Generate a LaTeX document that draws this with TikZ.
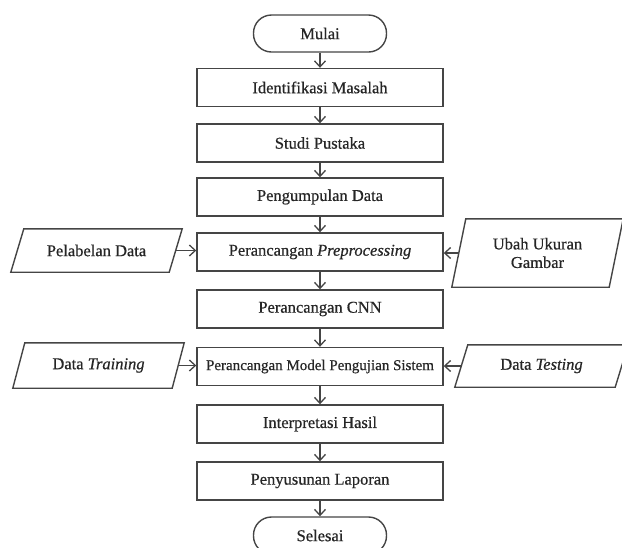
\documentclass[tikz,border=0pt]{standalone}
\usepackage{fontspec}
\setmainfont{Liberation Serif}[FakeBold=0.6, ItalicFeatures={FakeBold=0.6}]
\usetikzlibrary{arrows.meta}
\definecolor{ln}{HTML}{454545}
\begin{document}
\begin{tikzpicture}[x=1pt,y=-1pt,
  every node/.style={font=\fontsize{16.5}{18.5}\selectfont, text=black!85},
  box/.style={draw=ln, line width=1.4pt, minimum width=246pt, minimum height=38pt, inner sep=0pt},
  term/.style={draw=ln, line width=1.4pt, minimum width=133pt, minimum height=37pt, rounded corners=18pt, inner sep=0pt},
  io/.style={minimum height=#1, inner sep=0pt, align=center},
  arr/.style={draw=ln, line width=1.3pt, -{Straight Barb[length=6pt,width=11pt,line width=1.3pt]}},
  para/.style={draw=ln, line width=1.4pt}
]
\useasboundingbox (0,0) rectangle (622,547);
\node[term] (mulai) at (320,33.5) {Mulai};
\node[box] (ident) at (320,87.5) {Identifikasi Masalah};
\node[box] (studi) at (320,143) {Studi Pustaka};
\node[box] (kumpul) at (320,197) {Pengumpulan Data};
\node[box] (prep) at (320,252) {Perancangan \textit{Preprocessing}};
\node[box] (cnn) at (320,309) {Perancangan CNN};
\node[box, font=\fontsize{15}{17}\selectfont] (model) at (320,366.5) {Perancangan Model Pengujian Sistem};
\node[box] (interp) at (320,424) {Interpretasi Hasil};
\node[box] (susun) at (320,481) {Penyusunan Laporan};
\node[term] (selesai) at (320,535.5) {Selesai};

\node[io=43pt, minimum width=158pt] (label) at (96.5,250.5) {Pelabelan Data};
\node[io=68pt, minimum width=157pt] (ubah) at (537.5,253) {Ubah Ukuran\\Gambar};
\node[io=45pt, minimum width=159pt] (train) at (98.5,365.5) {Data \textit{Training}};
\node[io=42pt, minimum width=160pt] (test) at (541.5,366) {Data \textit{Testing}};

\foreach \n/\s in {label/6.5, ubah/7, train/6, test/6.5}{
  \draw[para] ([xshift=\s pt]\n.north west) -- ([xshift=\s pt]\n.north east)
    -- ([xshift=-\s pt]\n.south east) -- ([xshift=-\s pt]\n.south west) -- cycle;
}

\draw[arr] (mulai) -- (ident);
\draw[arr] (ident) -- (studi);
\draw[arr] (studi) -- (kumpul);
\draw[arr] (kumpul) -- (prep);
\draw[arr] (prep) -- (cnn);
\draw[arr] (cnn) -- (model);
\draw[arr] (model) -- (interp);
\draw[arr] (interp) -- (susun);
\draw[arr] (susun) -- (selesai);

\draw[arr] (label.east) -- (prep.west |- label.east);
\draw[arr] (ubah.west) -- (prep.east |- ubah.west);
\draw[arr] (train.east) -- (model.west |- train.east);
\draw[arr] (test.west) -- (model.east |- test.west);
\end{tikzpicture}
\end{document}
